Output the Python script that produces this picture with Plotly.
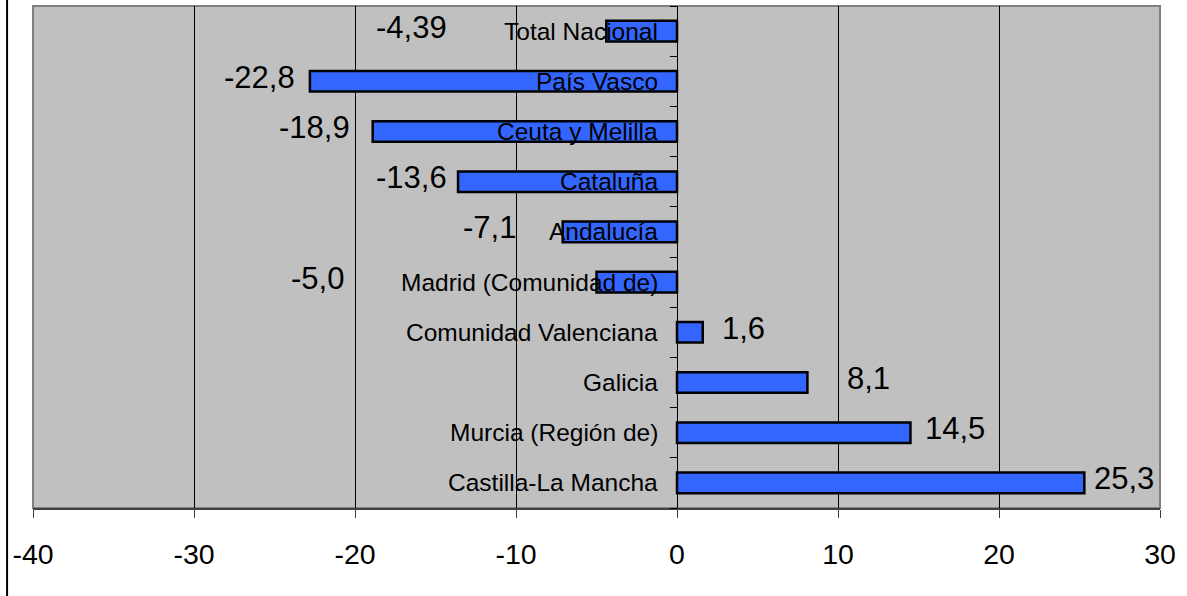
import plotly.graph_objects as go


REGIONS = ['Total Nacional', 'País Vasco', 'Ceuta y Melilla', 'Cataluña', 'Andalucía',
           'Madrid (Comunidad de)', 'Comunidad Valenciana', 'Galicia',
           'Murcia (Región de)', 'Castilla-La Mancha']
VALUES = [-4.39, -22.8, -18.9, -13.6, -7.1, -5.0, 1.6, 8.1, 14.5, 25.3]
DECIMALS = [2, 1, 1, 1, 1, 1, 1, 1, 1, 1]
X_TICKS = [-40, -30, -20, -10, 0, 10, 20, 30]

# pixel gap between bar end and its value label (as placed in the original)
LABEL_GAP = [157, 13, 21, 9, 45, 251, 17, 38, 13, 8]

FONT = 'Arial, Liberation Sans, sans-serif'
BAR_COLOR = '#3366FF'
PLOT_BG = '#C0C0C0'
X_RANGE = (-40, 30)


def fmt(v, d):
    return f'{v:.{d}f}'.replace('.', ',')


fig = go.Figure()

fig.add_trace(go.Bar(
    x=VALUES,
    y=REGIONS,
    orientation='h',
    width=0.41,
    marker=dict(color=BAR_COLOR, line=dict(color='black', width=2.5)),
    hoverinfo='x+y',
))

annotations = []
for name, v, d, gap in zip(REGIONS, VALUES, DECIMALS, LABEL_GAP):
    # category label, right-aligned just left of zero line
    annotations.append(dict(
        x=0, y=name, xref='x', yref='y', text=name, showarrow=False,
        xanchor='right', xshift=-17, font=dict(family=FONT, size=24.5, color='black'),
    ))
    # value label outside bar end
    annotations.append(dict(
        x=v, y=name, xref='x', yref='y', text=fmt(v, d), showarrow=False,
        xanchor='right' if v < 0 else 'left',
        xshift=-gap if v < 0 else gap, yshift=4,
        font=dict(family=FONT, size=31, color='black'),
    ))

zero_pos = (0 - X_RANGE[0]) / (X_RANGE[1] - X_RANGE[0])

fig.update_layout(
    width=1187,
    height=596,
    margin=dict(l=33, r=27, t=6, b=88),
    paper_bgcolor='white',
    plot_bgcolor=PLOT_BG,
    showlegend=False,
    font=dict(family=FONT, color='black'),
    annotations=annotations,
    xaxis=dict(
        range=X_RANGE,
        tickvals=X_TICKS,
        ticktext=[str(t) for t in X_TICKS],
        tickfont=dict(size=28.5, color='black'),
        showgrid=True, gridcolor='black', gridwidth=1,
        zeroline=False,
        showline=True, linecolor='#404040', linewidth=2,
        ticks='outside', ticklen=8, tickcolor='#404040', tickwidth=1,
        ticklabelstandoff=12,
        fixedrange=True,
    ),
    yaxis=dict(
        categoryorder='array',
        categoryarray=REGIONS[::-1],
        anchor='free',
        position=zero_pos,
        showline=True, linecolor='black', linewidth=1,
        ticks='outside', ticklen=7, tickcolor='black',
        tickson='boundaries',
        showticklabels=False,
        showgrid=False,
        zeroline=False,
        fixedrange=True,
    ),
    shapes=[
        # plot area frame
        dict(type='rect', xref='paper', yref='paper', x0=0, x1=1, y0=0, y1=1,
             line=dict(color='#808080', width=2), layer='below'),
        # outer chart border on the left
        dict(type='line', xref='paper', yref='paper', x0=-0.023, x1=-0.023,
             y0=-0.2, y1=1.02, line=dict(color='black', width=2)),
    ],
)

fig.write_html('out.html', config={'displayModeBar': False},
               post_script="document.body.style.margin='0';")
